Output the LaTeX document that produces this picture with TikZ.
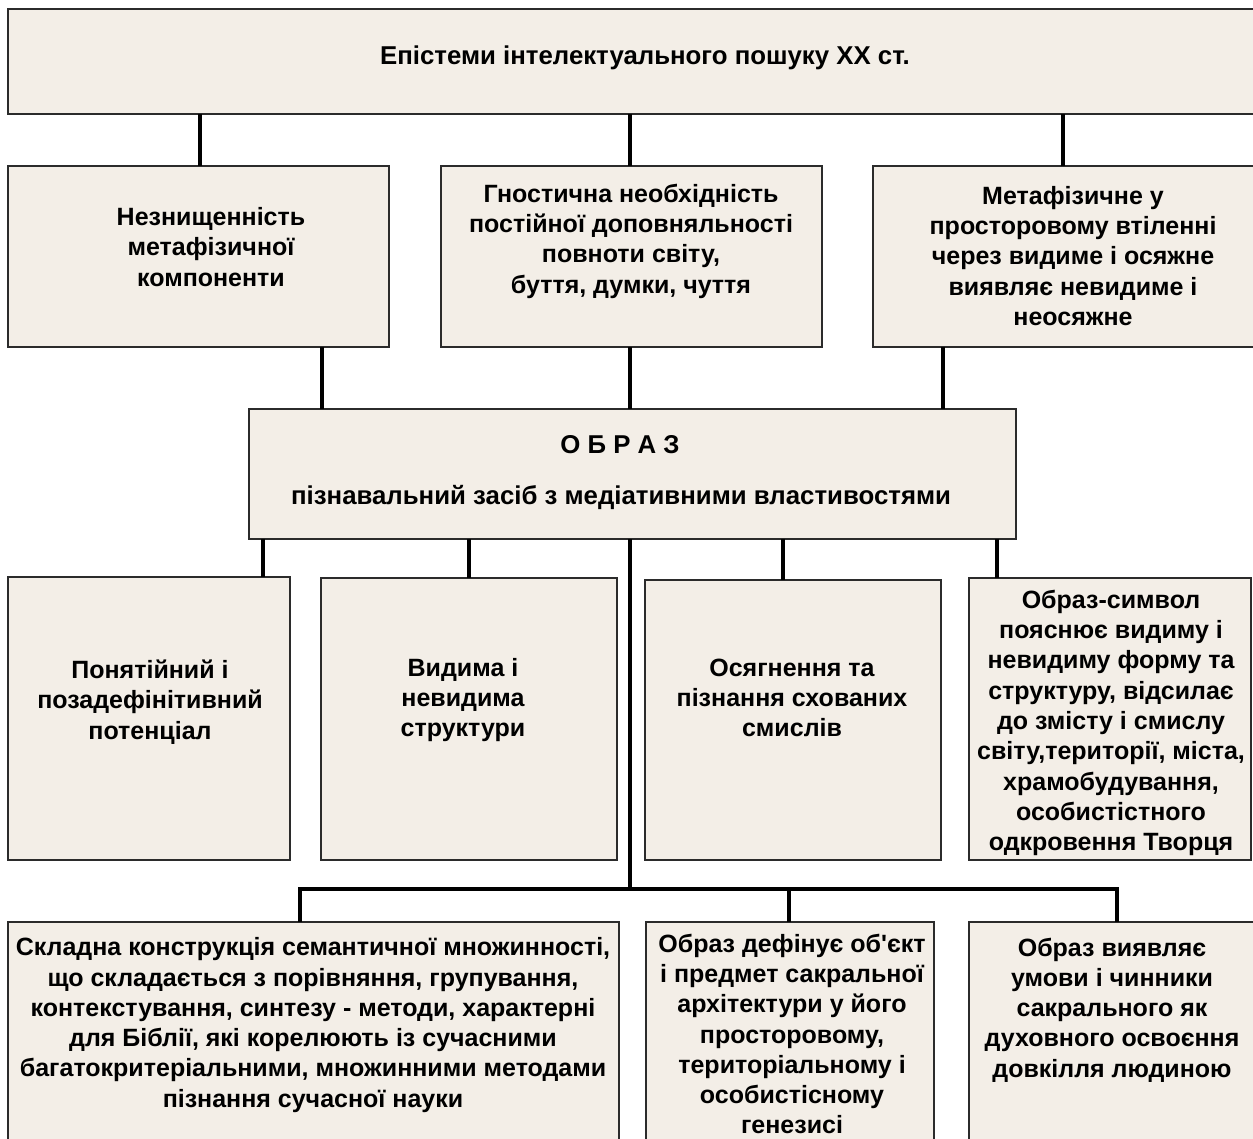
\documentclass[tikz,border=0pt]{standalone}
\usepackage{fontspec}
\setmainfont{Liberation Sans}
\newfontfamily\aposfont{Liberation Sans}
\definecolor{boxfill}{HTML}{F3EEE7}
\definecolor{boxline}{HTML}{2B2B2B}
\begin{document}
\begin{tikzpicture}[x=1pt,y=-1pt,
  box/.style={draw=boxline,line width=1.6pt,fill=boxfill,anchor=north west,inner sep=0pt,outer sep=0pt},
  conn/.style={draw=black,line width=4.5pt},
  txt/.style={align=center,font=\fontsize{25}{30.3}\selectfont\bfseries,inner sep=0pt},
  bigtxt/.style={txt,font=\fontsize{25.8}{30.3}\selectfont\bfseries}]
\useasboundingbox (0,0) rectangle (1253,1138);
\clip (0,0) rectangle (1253,1138);
\fill[white] (0,0) rectangle (1253,1138);
% x positions of connectors
\coordinate (xa) at (322,0);
\coordinate (xc) at (943,0);
\coordinate (xd) at (263,0);
\coordinate (xe) at (469,0);
\coordinate (xt) at (630,0);
\coordinate (xf) at (783,0);
\coordinate (xg) at (997,0);
\coordinate (xh) at (300,0);
\coordinate (xi) at (789,0);
\coordinate (xj) at (1117,0);
\coordinate (xa0) at (200,0);
\coordinate (xc0) at (1063,0);
\coordinate (bus) at (0,889);
% boxes
\node[box,minimum width=1257pt,minimum height=105pt] (top) at (8,9) {};
\node[box,minimum width=381pt,minimum height=181pt] (A) at (8,166) {};
\node[box,minimum width=381pt,minimum height=181pt] (B) at (441,166) {};
\node[box,minimum width=392pt,minimum height=181pt] (C) at (873,166) {};
\node[box,minimum width=767pt,minimum height=130pt] (obraz) at (249,409) {};
\node[box,minimum width=282pt,minimum height=283pt] (D) at (8,577) {};
\node[box,minimum width=296pt,minimum height=282pt] (E) at (321,578) {};
\node[box,minimum width=296pt,minimum height=280pt] (F) at (645,580) {};
\node[box,minimum width=282pt,minimum height=282pt] (G) at (969,578) {};
\node[box,minimum width=611pt,minimum height=230pt] (H) at (8,922) {};
\node[box,minimum width=288pt,minimum height=230pt] (I) at (646,922) {};
\node[box,minimum width=296pt,minimum height=230pt] (J) at (969,922) {};
% connectors
\draw[conn] (top.south -| xa0) -- (A.north -| xa0);
\draw[conn] (top.south -| xt) -- (B.north -| xt);
\draw[conn] (top.south -| xc0) -- (C.north -| xc0);
\draw[conn] (A.south -| xa) -- (obraz.north -| xa);
\draw[conn] (B.south -| xt) -- (obraz.north -| xt);
\draw[conn] (C.south -| xc) -- (obraz.north -| xc);
\draw[conn] (obraz.south -| xd) -- (D.north -| xd);
\draw[conn] (obraz.south -| xe) -- (E.north -| xe);
\draw[conn] (obraz.south -| xf) -- (F.north -| xf);
\draw[conn] (obraz.south -| xg) -- (G.north -| xg);
\draw[conn] (obraz.south -| xt) -- (bus -| xt);
\draw[conn,line cap=rect] (bus -| xh) -- (bus -| xj);
\draw[conn] (bus -| xh) -- (H.north -| xh);
\draw[conn] (bus -| xi) -- (I.north -| xi);
\draw[conn] (bus -| xj) -- (J.north -| xj);
% texts
\node[bigtxt] (ttop) at (645,58) {Епістеми інтелектуального пошуку ХХ ст.};
\node[txt] (tA) at (211,247) {Незнищенність\\метафізичної\\компоненти};
\node[txt] (tB) at (631,241) {Гностична необхідність\\постійної доповняльності\\повноти світу,\\буття, думки, чуття};
\node[txt] (tC) at (1073,256) {Метафізичне у\\просторовому втіленні\\через видиме і осяжне\\виявляє невидиме і\\неосяжне};
\node[bigtxt] (tO1) at (620,445) {О Б Р А З};
\node[bigtxt] (tO2) at (621,497) {пізнавальний засіб з медіативними властивостями};
\node[txt] (tD) at (150,702) {Понятійний і\\позадефінітивний\\потенціал};
\node[txt] (tE) at (463,700) {Видима і\\невидима\\структури};
\node[txt] (tF) at (792,698) {Осягнення та\\пізнання схованих\\смислів};
\node[txt] (tG) at (1111,723) {Образ-символ\\пояснює видиму і\\невидиму форму та\\структуру, відсилає\\до змісту і смислу\\світу,території, міста,\\храмобудування,\\особистістного\\одкровення Творця};
\node[txt] (tH) at (313,1025) {Складна конструкція семантичної множинності,\\що складається з порівняння, групування,\\контекстування, синтезу - методи, характерні\\для Біблії, які корелюють із сучасними\\багатокритеріальними, множинними методами\\пізнання сучасної науки};
\node[txt] (tI) at (792,1034) {Образ дефінує об{\aposfont\bfseries '}єкт\\і предмет сакральної\\архітектури у його\\просторовому,\\територіальному і\\особистісному\\генезисі};
\node[txt] (tJ) at (1112,1010) {Образ виявляє\\умови і чинники\\сакрального як\\духовного освоєння\\довкілля людиною};
\end{tikzpicture}
\end{document}
